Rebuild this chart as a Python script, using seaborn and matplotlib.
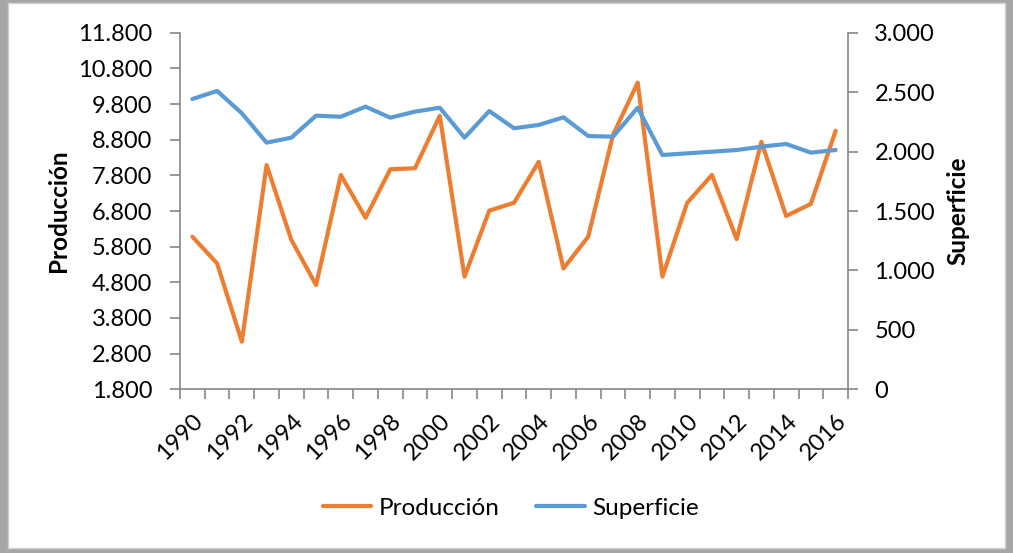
import matplotlib
matplotlib.use("Agg")
import matplotlib.pyplot as plt
from matplotlib.patches import Rectangle
from matplotlib.ticker import FixedLocator, FuncFormatter
import seaborn as sns
import pandas as pd
import numpy as np

years = list(range(1990, 2017))
produccion = [6080, 5330, 3135, 8090, 5990, 4725, 7810, 6610, 7970, 8000,
              9470, 4960, 6810, 7030, 8180, 5190, 6080, 8930, 10400, 4960,
              7030, 7810, 6010, 8740, 6660, 7000, 9050]
superficie = [2442, 2510, 2322, 2075, 2117, 2302, 2293, 2378, 2285, 2336,
              2369, 2117, 2341, 2196, 2224, 2288, 2131, 2125, 2369, 1971,
              1985, 1999, 2013, 2041, 2064, 1991, 2013]
left_ticks = list(range(1800, 11801, 1000))
right_ticks = list(range(0, 3001, 500))

ORANGE = "#ED7D31"
BLUE = "#5B9BD5"
AXIS_GRAY = "#868686"
FS = 17
FS_LAB = 17.5

sns.set_theme(style="white")
plt.rcParams['font.family'] = ['Lato', 'DejaVu Sans']
plt.rcParams['text.color'] = 'black'
plt.rcParams['xtick.color'] = 'black'
plt.rcParams['ytick.color'] = 'black'

df = pd.DataFrame({"year": years, "Producción": produccion, "Superficie": superficie})
df["pos"] = np.arange(len(df))

fig = plt.figure(figsize=(10.13, 5.53), dpi=100, facecolor="#a6a6a6")
# white card with gray frame
fig.patches.append(Rectangle((8 / 1013, 5 / 553), 997 / 1013, 545 / 553,
                             transform=fig.transFigure, facecolor="white",
                             edgecolor="#d0d0d0", linewidth=1, zorder=-10))

ax = fig.add_axes([180 / 1013, 1 - 389.3 / 553, 668 / 1013, 356.6 / 553])
ax.set_facecolor("none")
ax2 = ax.twinx()

sns.lineplot(data=df, x="pos", y="Producción", ax=ax, color=ORANGE, linewidth=3,
             label="Producción", legend=False)
sns.lineplot(data=df, x="pos", y="Superficie", ax=ax2, color=BLUE, linewidth=3,
             label="Superficie", legend=False)

ax.set_xlim(-0.5, len(years) - 0.5)
ax.set_ylim(left_ticks[0], left_ticks[-1])
ax2.set_ylim(right_ticks[0], right_ticks[-1])

fmt = FuncFormatter(lambda v, p: f"{v:,.0f}".replace(",", "."))
ax.set_yticks(left_ticks)
ax.yaxis.set_major_formatter(fmt)
ax2.set_yticks(right_ticks)
ax2.yaxis.set_major_formatter(fmt)

# category labels every second year, tick marks at category boundaries
ax.set_xticks(df["pos"][::2])
ax.set_xticklabels([str(y) for y in years[::2]], rotation=45, ha="right",
                   rotation_mode="anchor")
ax.xaxis.set_minor_locator(FixedLocator(np.arange(-0.5, len(years), 1.0)))
ax.tick_params(axis="x", which="major", length=0, pad=15, labelsize=FS)
ax.tick_params(axis="x", which="minor", length=7, width=1.2, color=AXIS_GRAY,
               direction="out", bottom=True)
ax.tick_params(axis="y", length=7, width=1.2, color=AXIS_GRAY, direction="out",
               pad=13, labelsize=FS, left=True)
ax2.tick_params(axis="y", length=7, width=1.2, color=AXIS_GRAY, direction="out",
                pad=12, labelsize=FS, right=True)

ax.set_xlabel("")
ax.set_ylabel("")
ax2.set_ylabel("")

for a in (ax, ax2):
    a.spines["top"].set_visible(False)
    for s in ("left", "right", "bottom"):
        a.spines[s].set_color(AXIS_GRAY)
        a.spines[s].set_linewidth(1.2)
ax.spines["right"].set_visible(False)
ax2.spines["left"].set_visible(False)
ax2.spines["bottom"].set_visible(False)

fig.text(58 / 1013, 1 - 211 / 553, "Producción", rotation=90, ha="center",
         va="center", fontsize=FS_LAB, fontweight="bold")
fig.text(958 / 1013, 1 - 211 / 553, "Superficie", rotation=90, ha="center",
         va="center", fontsize=FS_LAB, fontweight="bold")

h1, l1 = ax.get_legend_handles_labels()
h2, l2 = ax2.get_legend_handles_labels()
fig.legend(h1 + h2, l1 + l2, loc="center", bbox_to_anchor=(0.504, 1 - 508 / 553),
           ncol=2, frameon=False, fontsize=FS_LAB, handlelength=2.0,
           handletextpad=0.3, columnspacing=1.5)

fig.savefig("out.png", dpi=100, facecolor=fig.get_facecolor())
